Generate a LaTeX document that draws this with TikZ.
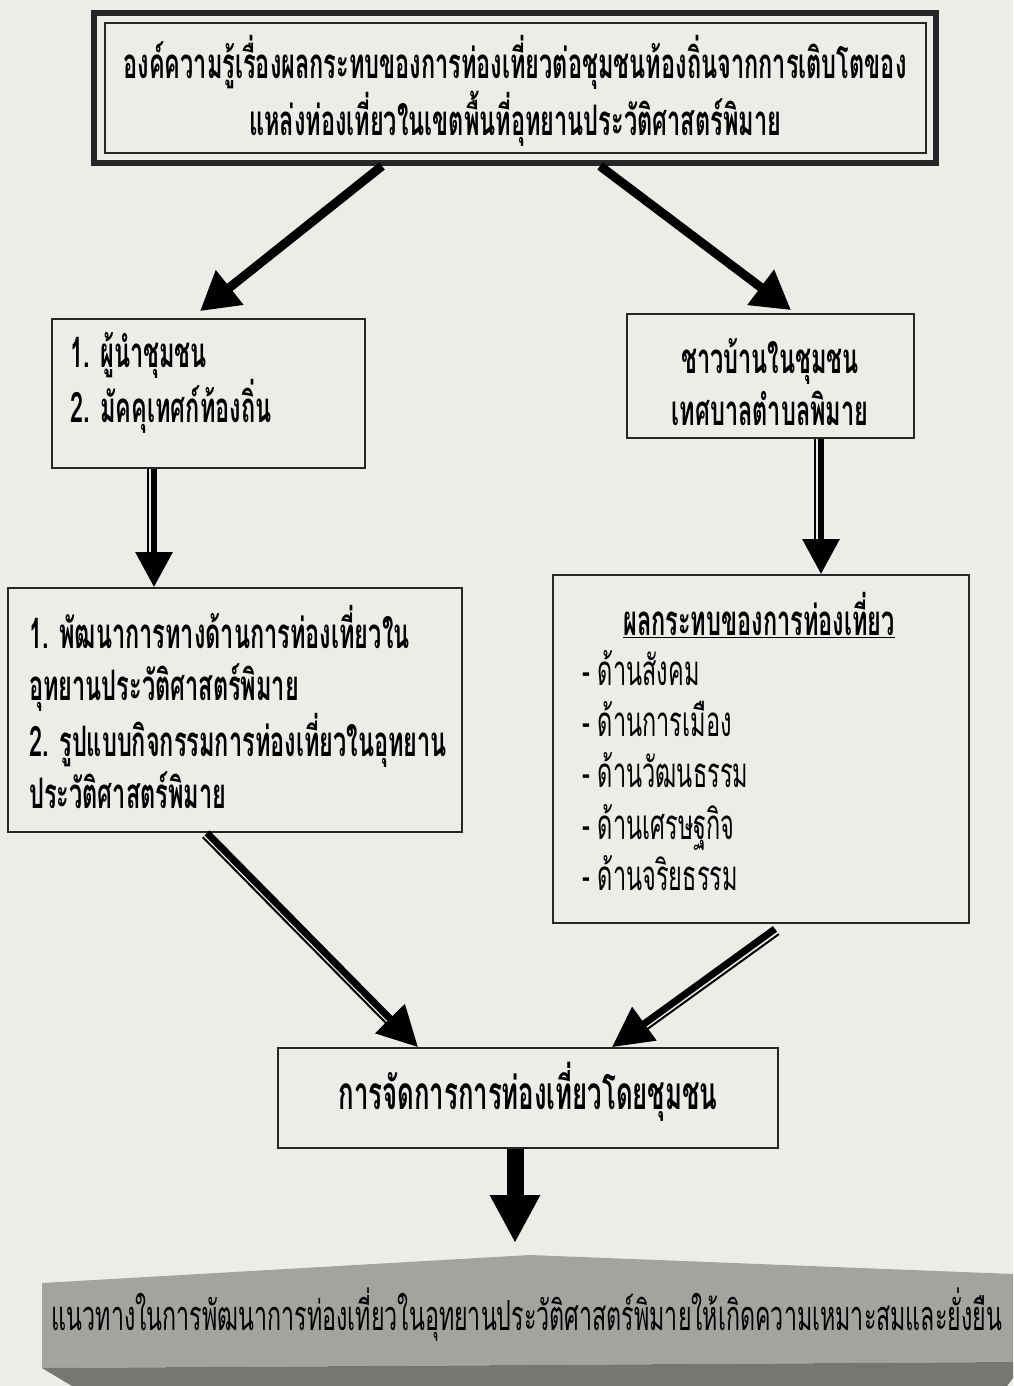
\documentclass[tikz,border=0pt]{standalone}
\usepackage{fontspec}
\usetikzlibrary{arrows.meta}
\newfontfamily\thaifont[Script=Thai,FakeStretch=0.56]{Loma}
\definecolor{paper}{RGB}{236,236,233}
\definecolor{slab}{RGB}{163,163,160}
\definecolor{slabdark}{RGB}{118,118,115}

\begin{document}
\begin{tikzpicture}[x=1pt,y=-1pt,
		box/.style={draw=black!85, line width=1.8pt, fill=paper},
		txt/.style={font={\thaifont\bfseries\fontsize{42}{52}\selectfont}, align=left, inner sep=0pt},
		fatarrow/.style={line width=9pt, -{Triangle[length=38pt,width=42pt]}},
		shaft/.style={line width=6pt, -{Triangle[length=35pt,width=36pt]}},
		thinshaft/.style={line width=2pt},
		blockarrow/.style={line width=17pt, -{Triangle[length=48pt,width=47pt]}}]
	\useasboundingbox (0,0) rectangle (1013,1386);
	\fill[paper] (0,0) rectangle (1013,1386);
	% Top frame
	\node[box, line width=6pt, minimum width=842pt, minimum height=150pt] (top) at (515,88) {};
	\node[draw=black!85, line width=2pt, minimum width=821pt, minimum height=129pt] (topin) at (top.center) {};
	\node[txt, align=center] (toptxt) at (515,91) {องค์ความรู้เรื่องผลกระทบของการท่องเที่ยวต่อชุมชนท้องถิ่นจากการเติบโตของ\\แหล่งท่องเที่ยวในเขตพื้นที่อุทยานประวัติศาสตร์พิมาย};
	% Boxes
	\node[box, minimum width=313pt, minimum height=149pt] (lead) at (208.5,393.5) {};
	\node[txt, anchor=west] (leadtxt) at (70,383) {1. ผู้นำชุมชน\\2. มัคคุเทศก์ท้องถิ่น};
	\node[box, minimum width=287pt, minimum height=124pt] (vill) at (770.5,376) {};
	\node[txt, align=center] (villtxt) at (770,382) {ชาวบ้านในชุมชน\\เทศบาลตำบลพิมาย};
	\node[box, minimum width=454pt, minimum height=244pt] (devel) at (235,710) {};
	\node[txt, anchor=west] (develtxt) at (29,707) {1. พัฒนาการทางด้านการท่องเที่ยวใน\\อุทยานประวัติศาสตร์พิมาย\\2. รูปแบบกิจกรรมการท่องเที่ยวในอุทยาน\\ประวัติศาสตร์พิมาย};
	\node[box, minimum width=416pt, minimum height=348pt] (impact) at (761,749) {};
	\node[txt] (impacthead) at (759,615) {\underline{ผลกระทบของการท่องเที่ยว}};
	\node[txt, anchor=west, font={\thaifont\fontsize{42}{51.3}\selectfont}] (impacttxt) at (582,770.5)
		{- ด้านสังคม\\- ด้านการเมือง\\- ด้านวัฒนธรรม\\- ด้านเศรษฐกิจ\\- ด้านจริยธรรม};
	\node[box, minimum width=500pt, minimum height=100pt] (manage) at (528,1098) {};
	\node[txt, font={\thaifont\bfseries\fontsize{46}{52}\selectfont}] (managetxt) at (528,1092) {การจัดการการท่องเที่ยวโดยชุมชน};
	% Slab
	\fill[slab] (42,1283) -- (530,1255) -- (1013,1274) -- (1013,1362) -- (42,1368) -- cycle;
	\fill[slabdark] (42,1368) -- (1013,1362) -- (1013,1378) -- (1007,1386) -- (72,1386) -- cycle;
	\node[txt, font={\thaifont\fontsize{41.5}{52}\selectfont}] (guide) at (527,1315) {แนวทางในการพัฒนาการท่องเที่ยวในอุทยานประวัติศาสตร์พิมายให้เกิดความเหมาะสมและยั่งยืน};
	\coordinate (guidetip) at (515,1243);
	% Arrows
	\draw[fatarrow] ([xshift=-133pt]top.south) -- ([xshift=-8.5pt,yshift=7pt]lead.north);
	\draw[fatarrow] ([xshift=85pt]top.south) -- ([xshift=20.5pt,yshift=3pt]vill.north);
	\draw[shaft] ([xshift=-54.5pt]lead.south) -- ([xshift=-81pt]devel.north);
	\draw[thinshaft] ([xshift=-61pt]lead.south) -- ([xshift=-87.5pt,yshift=35pt]devel.north);
	\draw[shaft] ([xshift=50.5pt]vill.south) -- ([xshift=60pt]impact.north);
	\draw[thinshaft] ([xshift=44pt]vill.south) -- ([xshift=53.5pt,yshift=35pt]impact.north);
	\draw[shaft, line width=7pt, -{Triangle[length=40pt,width=40pt]}] ([xshift=-28pt]devel.south) -- ([xshift=-110pt]manage.north);
	\draw[thinshaft] ([xshift=-32.3pt,yshift=-4.2pt]devel.south) -- ([xshift=-142pt,yshift=24pt]manage.north);
	\draw[shaft, line width=7pt, -{Triangle[length=40pt,width=40pt]}] ([xshift=14pt,yshift=-5pt]impact.south) -- ([xshift=84pt]manage.north);
	\draw[thinshaft] ([xshift=17.9pt,yshift=-10.2pt]impact.south) -- ([xshift=120pt,yshift=18.5pt]manage.north);
	\draw[blockarrow] ([xshift=-13pt]manage.south) -- (guidetip);
\end{tikzpicture}
\end{document}
